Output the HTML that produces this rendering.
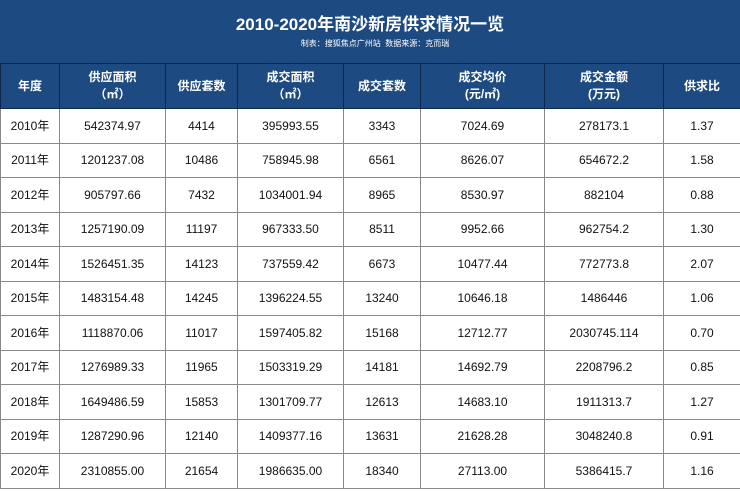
<!DOCTYPE html>
<html><head><meta charset="utf-8"><style>
body{margin:0;width:740px;height:492px;overflow:hidden;background:#fff;font-family:"Liberation Sans","Noto Sans CJK SC",sans-serif}
.top{position:absolute;left:0;top:0;width:740px;height:63px;background:#1d4a80;color:#fff;text-align:center}
.t{position:absolute;top:10px;width:100%;font-size:17px;font-weight:bold}
.s{position:absolute;top:38px;width:100%;font-size:8px;padding-left:10px;box-sizing:border-box}
table{position:absolute;left:0;top:63px;border-collapse:collapse;width:740px;table-layout:fixed}
th{background:#1d4a80;color:#fff;font-size:12px;font-weight:bold;height:44px;border:1px solid #10284a;line-height:17px;padding:0}
td{height:33.5px;border:1px solid #888;font-size:12px;color:#111;text-align:center;padding:0;line-height:14px}
</style></head><body>
<div class="top"><div class="t">2010-2020年南沙新房供求情况一览</div><div class="s">制表：搜狐焦点广州站&nbsp; 数据来源：克而瑞</div></div>
<table>
<colgroup><col style="width:59px"><col style="width:106px"><col style="width:72px"><col style="width:106px"><col style="width:77px"><col style="width:124px"><col style="width:119px"><col style="width:77px"></colgroup>
<tr><th>年度</th><th>供应面积<br>（㎡）</th><th>供应套数</th><th>成交面积<br>（㎡）</th><th>成交套数</th><th>成交均价<br>(元/㎡)</th><th>成交金额<br>(万元)</th><th>供求比</th></tr>
<tr><td>2010年</td><td>542374.97</td><td>4414</td><td>395993.55</td><td>3343</td><td>7024.69</td><td>278173.1</td><td>1.37</td></tr>
<tr><td>2011年</td><td>1201237.08</td><td>10486</td><td>758945.98</td><td>6561</td><td>8626.07</td><td>654672.2</td><td>1.58</td></tr>
<tr><td>2012年</td><td>905797.66</td><td>7432</td><td>1034001.94</td><td>8965</td><td>8530.97</td><td>882104</td><td>0.88</td></tr>
<tr><td>2013年</td><td>1257190.09</td><td>11197</td><td>967333.50</td><td>8511</td><td>9952.66</td><td>962754.2</td><td>1.30</td></tr>
<tr><td>2014年</td><td>1526451.35</td><td>14123</td><td>737559.42</td><td>6673</td><td>10477.44</td><td>772773.8</td><td>2.07</td></tr>
<tr><td>2015年</td><td>1483154.48</td><td>14245</td><td>1396224.55</td><td>13240</td><td>10646.18</td><td>1486446</td><td>1.06</td></tr>
<tr><td>2016年</td><td>1118870.06</td><td>11017</td><td>1597405.82</td><td>15168</td><td>12712.77</td><td>2030745.114</td><td>0.70</td></tr>
<tr><td>2017年</td><td>1276989.33</td><td>11965</td><td>1503319.29</td><td>14181</td><td>14692.79</td><td>2208796.2</td><td>0.85</td></tr>
<tr><td>2018年</td><td>1649486.59</td><td>15853</td><td>1301709.77</td><td>12613</td><td>14683.10</td><td>1911313.7</td><td>1.27</td></tr>
<tr><td>2019年</td><td>1287290.96</td><td>12140</td><td>1409377.16</td><td>13631</td><td>21628.28</td><td>3048240.8</td><td>0.91</td></tr>
<tr><td>2020年</td><td>2310855.00</td><td>21654</td><td>1986635.00</td><td>18340</td><td>27113.00</td><td>5386415.7</td><td>1.16</td></tr>
</table>
</body></html>
